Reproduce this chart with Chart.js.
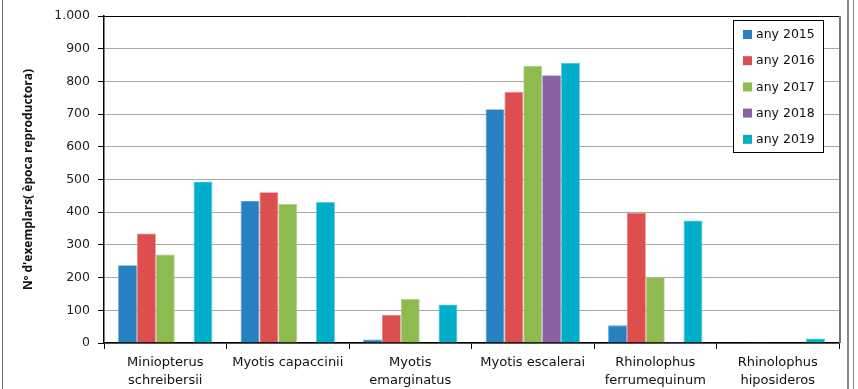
<!DOCTYPE html>
<html>
<head>
<meta charset="utf-8">
<script src="https://cdn.jsdelivr.net/npm/chart.js@4"></script>
<style>
  html, body { margin: 0; padding: 0; background: #fff; }
  #wrap { position: relative; width: 858px; height: 389px; }
  .frame { position: absolute; top: 0; bottom: 0; background: #6d6d6d; }
</style>
</head>
<body>
<div id="wrap">
  <canvas id="batChart" width="858" height="389"></canvas>
  <div class="frame" style="left:2px;width:1px"></div>
  <div class="frame" style="left:847px;width:2px;background:#888"></div>
  <div class="frame" style="left:853px;width:1px;background:#888"></div>
</div>
<script>
const species = [
  ["Miniopterus", "schreibersii"],
  "Myotis capaccinii",
  ["Myotis", "emarginatus"],
  "Myotis escalerai",
  ["Rhinolophus", "ferrumequinum"],
  ["Rhinolophus", "hiposideros"],
];
const years = ["any 2015", "any 2016", "any 2017", "any 2018", "any 2019"];
const y2015 = [238, 434, 11, 715, 54, 0];
const y2016 = [335, 461, 86, 768, 398, 1];
const y2017 = [271, 425, 135, 848, 201, 0];
const y2018 = [0, 0, 0, 819, 3, 0];
const y2019 = [494, 431, 118, 857, 375, 14];
const yTicks = [0, 100, 200, 300, 400, 500, 600, 700, 800, 900, 1000];

const colors = ["#2680c2", "#dd4f4f", "#8dbb50", "#8a62a2", "#00aec9"];
const edges = ["#5aa0d4", "#e87a7a", "#abcd7e", "#a88bbc", "#50c6da"];
const series = [y2015, y2016, y2017, y2018, y2019];

const frameAndLegend = {
  id: "frameAndLegend",
  afterDraw(chart) {
    const { ctx, chartArea: a } = chart;
    ctx.save();
    // top border of plot
    ctx.strokeStyle = "#000";
    ctx.lineWidth = 1;
    ctx.beginPath();
    ctx.moveTo(a.left - 6, a.top + 0.5);
    ctx.lineTo(a.right, a.top + 0.5);
    ctx.stroke();
    // right border
    ctx.strokeStyle = "#777";
    ctx.lineWidth = 2;
    ctx.beginPath();
    ctx.moveTo(a.right + 1, a.top);
    ctx.lineTo(a.right + 1, a.bottom);
    ctx.stroke();

    // legend box
    const bx = 733, by = 20, bw = 90, bh = 132;
    ctx.fillStyle = "#fff";
    ctx.fillRect(bx, by, bw, bh);
    ctx.strokeStyle = "#000";
    ctx.lineWidth = 1;
    ctx.strokeRect(bx + 0.5, by + 0.5, bw, bh);
    ctx.font = "12.5px 'DejaVu Sans'";
    ctx.textBaseline = "middle";
    ctx.textAlign = "left";
    chart.data.datasets.forEach((ds, i) => {
      const cy = 34 + i * 26.2;
      ctx.fillStyle = ds.backgroundColor;
      ctx.fillRect(bx + 10, cy - 4, 9, 9);
      ctx.fillStyle = "#111";
      ctx.fillText(ds.label, bx + 23, cy + 1);
    });
    ctx.restore();
  },
};

new Chart(document.getElementById("batChart"), {
  type: "bar",
  data: {
    labels: species,
    datasets: years.map((y, i) => ({
      label: y,
      data: series[i],
      backgroundColor: colors[i],
      borderColor: edges[i],
      borderWidth: 0.8,
      barPercentage: 1,
      categoryPercentage: 0.77,
    })),
  },
  options: {
    responsive: false,
    animation: false,
    layout: { padding: { top: 16, right: 19, left: 0, bottom: 0 } },
    plugins: {
      legend: { display: false },
      tooltip: { enabled: false },
    },
    scales: {
      y: {
        min: 0,
        max: 1000,
        afterFit(scale) { scale.width = 104; },
        afterBuildTicks(scale) { scale.ticks = yTicks.map((v) => ({ value: v })); },
        border: { color: "#000", width: 1.5 },
        grid: {
          color: "#a8a8a8",
          borderDash: [2, 1],
          tickColor: "#000",
          tickBorderDash: [],
          tickLength: 6,
        },
        ticks: {
          padding: 8,
          color: "#222",
          font: { family: "DejaVu Sans", size: 12.5 },
          callback: (v) => v.toLocaleString("de-DE"),
        },
        title: {
          display: true,
          text: "Nº d'exemplars( època reproductora)",
          color: "#111",
          font: { family: "Open Sans", size: 12, weight: "bold" },
          padding: { top: 21, bottom: 0 },
        },
      },
      x: {
        afterFit(scale) { scale.height = 46; },
        border: { color: "#000", width: 1.5 },
        grid: {
          offset: true,
          drawOnChartArea: false,
          tickColor: "#000",
          tickLength: 6,
        },
        ticks: {
          padding: 4,
          color: "#111",
          maxRotation: 0,
          autoSkip: false,
          font: { family: "DejaVu Sans", size: 13, lineHeight: 1.42 },
        },
      },
    },
  },
  plugins: [frameAndLegend],
});
</script>
</body>
</html>
